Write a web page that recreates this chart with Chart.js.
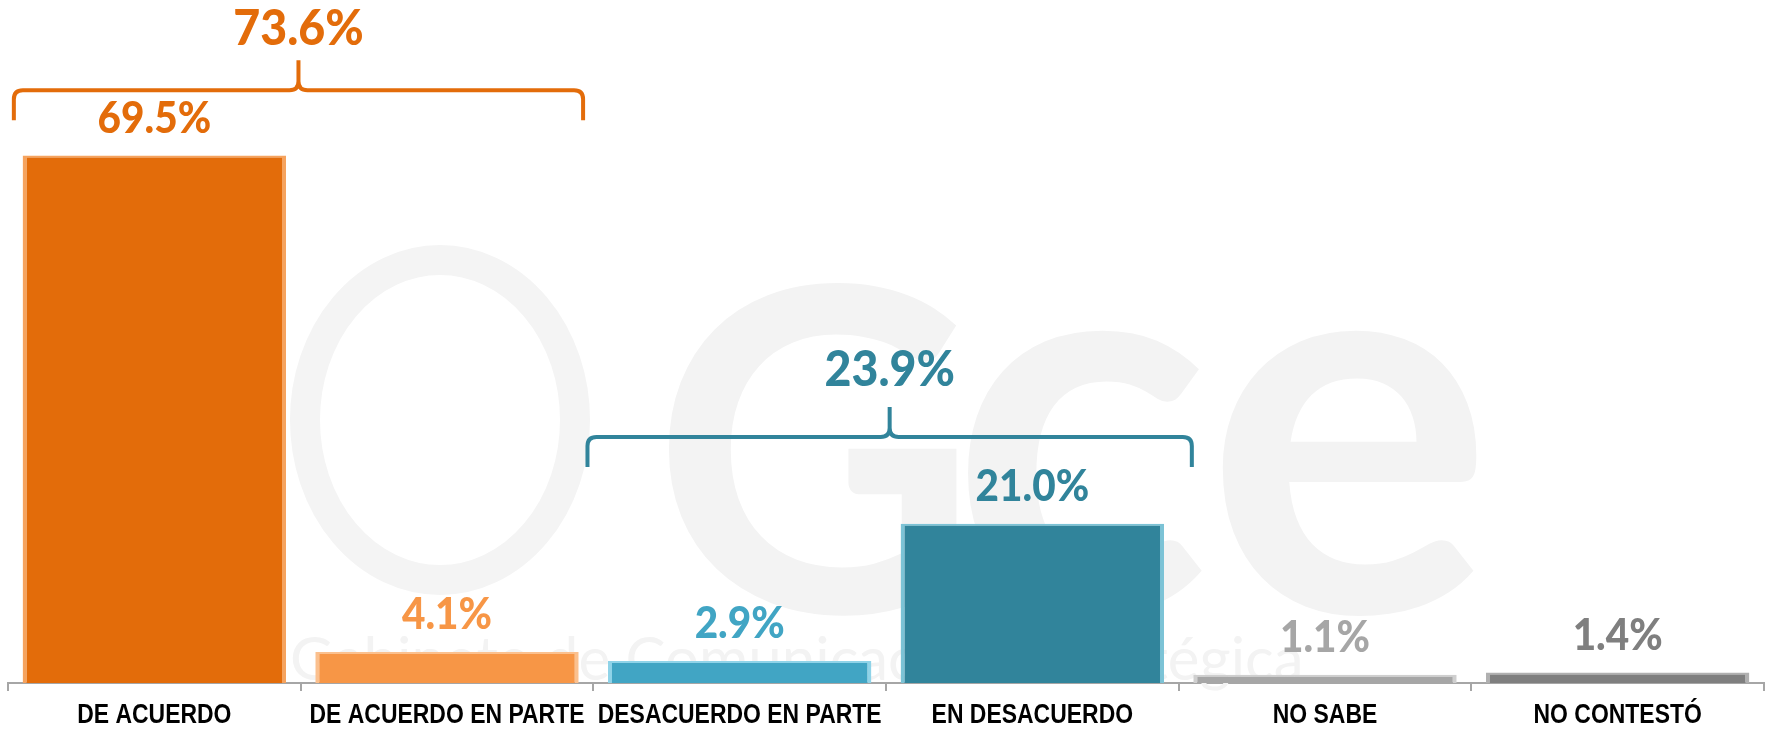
<!DOCTYPE html>
<html>
<head>
<meta charset="utf-8">
<script src="https://cdn.jsdelivr.net/npm/chart.js@4.4.1/dist/chart.umd.min.js"></script>
<style>
  html, body { margin: 0; padding: 0; background: #ffffff; }
  #wrap { width: 1767px; height: 731px; position: relative; }
</style>
</head>
<body>
<div id="wrap"><canvas id="opinion-chart"></canvas></div>
<script>
// Chart data
const categories = ['DE ACUERDO', 'DE ACUERDO EN PARTE', 'DESACUERDO EN PARTE', 'EN DESACUERDO', 'NO SABE', 'NO CONTESTÓ'];
const values = [69.5, 4.1, 2.9, 21.0, 1.1, 1.4];
const barColors = ['#E36C0A', '#F79646', '#41A5C4', '#31849B', '#A6A6A6', '#7F7F7F'];
const edgeColors = ['#F6A35E', '#FBC08E', '#8FD3E8', '#7CC3D6', '#CFCFCF', '#B0B0B0'];
const labelColors = ['#E36C0A', '#F79646', '#41A5C4', '#31849B', '#A6A6A6', '#7F7F7F'];

// Grouped totals shown over braces
const groupTotals = ['73.6%', '23.9%'];
const groupFirst = [0, 2];
const groupLast = [1, 3];
const groupColors = ['#E36C0A', '#31849B'];

const FONT_NUM = "'Lato', 'DejaVu Sans', sans-serif";
const FONT_CAT = "'Liberation Sans', 'Arial', sans-serif";

// faint logo behind the bars
const watermarkPlugin = {
  id: 'watermark',
  beforeDatasetsDraw(chart) {
    const ctx = chart.ctx;
    ctx.save();
    ctx.fillStyle = '#F3F3F3';
    ctx.strokeStyle = '#F4F4F4';
    ctx.textBaseline = 'alphabetic';
    ctx.font = "bold 450px 'Lato', sans-serif";
    ctx.fillText('G', 652, 612);
    ctx.font = "bold 540px 'Lato', sans-serif";
    ctx.fillText('c', 950, 612);
    ctx.fillText('e', 1205, 612);
    ctx.lineWidth = 30;
    ctx.beginPath();
    ctx.ellipse(440, 420, 135, 160, 0, 0, Math.PI * 2);
    ctx.stroke();
    ctx.font = "60px 'Lato', sans-serif";
    ctx.fillText('Gabinete de Comunicación Estratégica', 290, 680);
    ctx.restore();
  }
};

// percentage labels over each bar
const valueLabelPlugin = {
  id: 'valueLabels',
  afterDatasetsDraw(chart) {
    const ctx = chart.ctx;
    const meta = chart.getDatasetMeta(0);
    meta.data.forEach((bar, i) => {
      ctx.save();
      ctx.font = '900 44px ' + FONT_NUM;
      ctx.textAlign = 'center';
      ctx.textBaseline = 'middle';
      ctx.fillStyle = labelColors[i];
      ctx.translate(bar.x, bar.y - 37);
      ctx.scale(0.92, 1);
      ctx.fillText(values[i].toFixed(1) + '%', 0, 0);
      ctx.restore();
    });
  }
};

// category names drawn slightly condensed under the axis
const categoryLabelPlugin = {
  id: 'categoryLabels',
  afterDraw(chart) {
    const ctx = chart.ctx;
    const xs = chart.scales.x;
    const y = chart.chartArea.bottom + 33;
    categories.forEach((name, i) => {
      ctx.save();
      ctx.font = 'bold 27px ' + FONT_CAT;
      ctx.textAlign = 'center';
      ctx.textBaseline = 'middle';
      ctx.fillStyle = '#000000';
      ctx.translate(xs.getPixelForValue(i), y);
      ctx.scale(0.85, 1);
      ctx.fillText(name, 0, 0);
      ctx.restore();
    });
  }
};

// curly braces with group totals
const bracePlugin = {
  id: 'braces',
  afterDatasetsDraw(chart, args, opts) {
    const ctx = chart.ctx;
    const xs = chart.scales.x;
    const ys = chart.scales.y;
    const catW = xs.getPixelForValue(1) - xs.getPixelForValue(0);
    groupTotals.forEach((txt, g) => {
      const x1 = xs.getPixelForValue(groupFirst[g]) + opts.left[g] * catW;
      const x2 = xs.getPixelForValue(groupLast[g]) + opts.right[g] * catW;
      const xm = (x1 + x2) / 2;
      const yLine = ys.getPixelForValue(opts.level[g]);
      const yEnd = yLine + 30;
      const yPeak = yLine - 30;
      const r = 9;
      ctx.save();
      ctx.strokeStyle = groupColors[g];
      ctx.lineWidth = 4;
      ctx.lineJoin = 'round';
      ctx.beginPath();
      ctx.moveTo(x1, yEnd);
      ctx.lineTo(x1, yLine + r);
      ctx.quadraticCurveTo(x1, yLine, x1 + r, yLine);
      ctx.lineTo(xm - r, yLine);
      ctx.quadraticCurveTo(xm, yLine, xm, yLine - r);
      ctx.lineTo(xm, yPeak);
      ctx.moveTo(x2, yEnd);
      ctx.lineTo(x2, yLine + r);
      ctx.quadraticCurveTo(x2, yLine, x2 - r, yLine);
      ctx.lineTo(xm + r, yLine);
      ctx.quadraticCurveTo(xm, yLine, xm, yLine - r);
      ctx.stroke();
      ctx.font = '900 50px ' + FONT_NUM;
      ctx.fillStyle = groupColors[g];
      ctx.textAlign = 'center';
      ctx.textBaseline = 'middle';
      ctx.translate(xm, yLine - opts.labelGap[g]);
      ctx.scale(0.93, 1);
      ctx.fillText(txt, 0, 0);
      ctx.restore();
    });
  }
};

const ctx = document.getElementById('opinion-chart').getContext('2d');
new Chart(ctx, {
  type: 'bar',
  data: {
    labels: categories,
    datasets: [{
      data: values,
      backgroundColor: barColors,
      borderColor: edgeColors,
      borderWidth: { top: 2, left: 4, right: 4, bottom: 0 },
      borderSkipped: 'bottom',
      categoryPercentage: 1.0,
      barPercentage: 0.9
    }]
  },
  options: {
    responsive: true,
    maintainAspectRatio: false,
    animation: false,
    layout: { padding: { top: 0, left: 8, right: 3, bottom: -14 } },
    plugins: {
      legend: { display: false },
      tooltip: { enabled: false },
      braces: {
        left: [-0.48, -0.52],
        right: [0.465, 0.545],
        level: [78.1, 32.4],
        labelGap: [61, 67]
      }
    },
    scales: {
      x: {
        offset: true,
        grid: {
          display: true,
          offset: true,
          drawOnChartArea: false,
          drawTicks: true,
          tickLength: 8,
          color: '#A6A6A6',
          lineWidth: 2
        },
        border: { display: true, color: '#A6A6A6', width: 2 },
        ticks: {
          color: 'rgba(0,0,0,0)',
          padding: 12,
          maxRotation: 0,
          autoSkip: false,
          font: { family: FONT_CAT, size: 25, weight: 'bold' }
        }
      },
      y: {
        display: false,
        min: 0,
        max: 90
      }
    }
  },
  plugins: [watermarkPlugin, valueLabelPlugin, bracePlugin, categoryLabelPlugin]
});
</script>
</body>
</html>
